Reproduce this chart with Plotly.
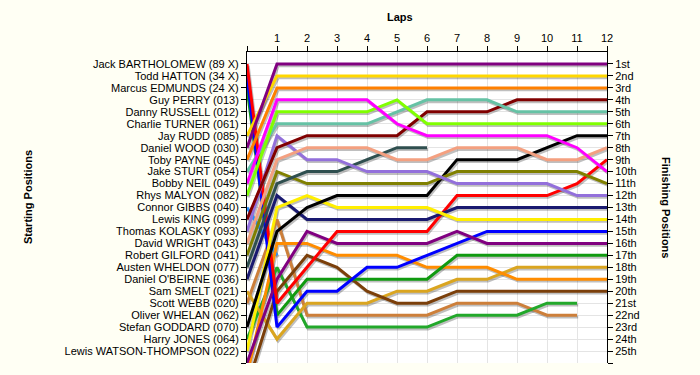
import plotly.graph_objects as go

# ---------------- data ----------------
start_names = [
    "Jack BARTHOLOMEW (89 X)", "Todd HATTON (34 X)", "Marcus EDMUNDS (24 X)",
    "Guy PERRY (013)", "Danny RUSSELL (012)", "Charlie TURNER (061)",
    "Jay RUDD (085)", "Daniel WOOD (030)", "Toby PAYNE (045)",
    "Jake STURT (054)", "Bobby NEIL (049)", "Rhys MALYON (082)",
    "Connor GIBBS (040)", "Lewis KING (099)", "Thomas KOLASKY (093)",
    "David WRIGHT (043)", "Robert GILFORD (041)", "Austen WHELDON (077)",
    "Daniel O'BEIRNE (036)", "Sam SMELT (021)", "Scott WEBB (020)",
    "Oliver WHELAN (062)", "Stefan GODDARD (070)", "Harry JONES (064)",
    "Lewis WATSON-THOMPSON (022)",
]
finish_labels = ["1st", "2nd", "3rd"] + [f"{i}th" for i in range(4, 21)] + ["21st", "22nd", "23rd", "24th", "25th"]
laps = list(range(0, 13))

# positions from lap 0 (grid) to the last lap completed
pos_purple    = [8, 1, 1, 1, 1, 1, 1, 1, 1, 1, 1, 1, 1]
pos_yellow    = [7, 2, 2, 2, 2, 2, 2, 2, 2, 2, 2, 2, 2]
pos_orange    = [9, 3, 3, 3, 3, 3, 3, 3, 3, 3, 3, 3, 3]
pos_magenta   = [11, 4, 4, 4, 4, 6, 7, 7, 7, 7, 7, 8, 10]
pos_lime      = [12, 5, 5, 5, 5, 4, 6, 6, 6, 6, 6, 6, 6]
pos_teal      = [10, 6, 6, 6, 6, 5, 4, 4, 4, 5, 5, 5, 5]
pos_maroon    = [14, 8, 7, 7, 7, 7, 5, 5, 5, 4, 4, 4, 4]
pos_salmon    = [16, 9, 8, 8, 8, 9, 9, 8, 8, 8, 9, 9, 8]
pos_lavender  = [15, 7, 9, 9, 10, 10, 10, 11, 11, 11, 11, 12, 12]
pos_slate     = [18, 11, 10, 10, 9, 8, 8]
pos_olive     = [17, 10, 11, 11, 11, 11, 11, 10, 10, 10, 10, 10, 11]
pos_black     = [23, 15, 13, 12, 12, 12, 12, 9, 9, 9, 8, 7, 7]
pos_yellow2   = [25, 13, 12, 13, 13, 13, 13, 14, 14, 14, 14, 14, 14]
pos_navy      = [19, 12, 14, 14, 14, 14, 14, 13, 13, 13, 13, 13, 13]
pos_red       = [1, 21, 18, 15, 15, 15, 15, 12, 12, 12, 12, 11, 9]
pos_purple2   = [26, 19, 15, 16, 16, 16, 16, 15, 16, 16, 16, 16, 16]
pos_blue      = [2, 23, 20, 20, 18, 18, 17, 16, 15, 15, 15, 15, 15]
pos_orange2   = [27, 16, 16, 17, 17, 17, 18, 18, 18, 19, 19, 19, 19]
pos_brown     = [28, 20, 17, 18, 20, 21, 21, 20, 20, 20, 20, 20, 20]
pos_green     = [3, 22, 19, 19, 19, 19, 19, 17, 17, 17, 17, 17, 17]
pos_gold      = [20, 24, 21, 21, 21, 20, 20, 19, 19, 18, 18, 18, 18]
pos_copper    = [21, 14, 22, 22, 22, 22, 22, 21, 21, 21, 22, 22]
pos_green2    = [24, 18, 23, 23, 23, 23, 23, 22, 22, 22, 21, 21]
pos_ltblue    = [13, 17]

series = [
    (pos_ltblue, "#1E90FF"),
    (pos_copper, "#CD7F3A"),
    (pos_green2, "#22A82A"),
    (pos_gold, "#DAA520"),
    (pos_brown, "#7B3F0A"),
    (pos_orange2, "#FF8C00"),
    (pos_green, "#109A10"),
    (pos_blue, "#0000FF"),
    (pos_purple2, "#800080"),
    (pos_red, "#FF0000"),
    (pos_navy, "#191970"),
    (pos_yellow2, "#FFEE00"),
    (pos_black, "#000000"),
    (pos_olive, "#808000"),
    (pos_slate, "#2F4F4F"),
    (pos_lavender, "#9370DB"),
    (pos_salmon, "#F4A080"),
    (pos_maroon, "#800000"),
    (pos_teal, "#66C2A5"),
    (pos_lime, "#80FF00"),
    (pos_magenta, "#FF00FF"),
    (pos_orange, "#FF8000"),
    (pos_yellow, "#FFD700"),
    (pos_purple, "#800080"),
]

# ---------------- figure ----------------
fig = go.Figure()

# soft drop shadows
for ys, col in series:
    xs = laps[:len(ys)]
    fig.add_trace(go.Scatter(
        x=[v + 0.04 for v in xs], y=[v + 0.15 for v in ys], mode="lines",
        line=dict(color="rgba(0,0,0,0.25)", width=3),
        hoverinfo="skip", showlegend=False))

for ys, col in series:
    xs = laps[:len(ys)]
    fig.add_trace(go.Scatter(
        x=xs, y=ys, mode="lines",
        line=dict(color=col, width=3),
        showlegend=False))

# invisible trace to anchor the right axis
fig.add_trace(go.Scatter(x=[0], y=[1], yaxis="y2", mode="markers",
                         marker=dict(opacity=0), hoverinfo="skip", showlegend=False))

L, R, T, B = 247, 607, 52, 363
W, H = 700, 375
BG = "#FFFFF4"

font = dict(family="Liberation Sans, Arial, sans-serif", size=11, color="#000000")

fig.update_layout(
    width=W, height=H,
    margin=dict(l=L, r=W - R, t=T, b=H - B, pad=0, autoexpand=False),
    paper_bgcolor=BG,
    plot_bgcolor="#FFFFFF",
    font=font,
    showlegend=False,
    xaxis=dict(
        range=[0, 12], side="top",
        tickvals=list(range(0, 13)),
        ticktext=[""] + [str(i) for i in range(1, 13)],
        ticks="outside", ticklen=5, tickcolor="#000000",
        showline=True, linecolor="#000000", linewidth=1,
        showgrid=True, gridcolor="#E4E4E4", gridwidth=1,
        zeroline=False, fixedrange=True, automargin=False,
        tickfont=dict(size=11),
    ),
    yaxis=dict(
        range=[26, 0],
        tickvals=list(range(1, 27)),
        ticktext=start_names + [""],
        ticks="outside", ticklen=5, tickcolor="#000000",
        showline=True, linecolor="#000000", linewidth=1,
        showgrid=True, gridcolor="#E4E4E4", gridwidth=1,
        zeroline=False, fixedrange=True, automargin=False,
        tickfont=dict(size=11),
    ),
    yaxis2=dict(
        range=[26, 0], overlaying="y", side="right",
        tickvals=list(range(1, 27)),
        ticktext=finish_labels + [""],
        ticks="outside", ticklen=5, tickcolor="#000000",
        showline=True, linecolor="#000000", linewidth=1,
        showgrid=False, zeroline=False, fixedrange=True, automargin=False,
        tickfont=dict(size=11),
    ),
)


def px_to_paper(px, py):
    return (px - L) / (R - L), (B - py) / (B - T)


def add_title(text, px, py, angle):
    ax, ay = px_to_paper(px, py)
    fig.add_annotation(text="<b>" + text + "</b>", x=ax, y=ay, xref="paper", yref="paper",
                       xanchor="center", yanchor="middle",
                       showarrow=False, textangle=angle, font=dict(size=11))


add_title("Laps", 400, 17, 0)
add_title("Starting Positions", 28, 197, -90)
add_title("Finishing Positions", 666, 207, 90)

post = (
    "document.body.style.margin='0';"
    "document.body.style.padding='0';"
    "document.body.style.overflow='hidden';"
    "document.body.style.background='" + BG + "';"
)
fig.write_html("out.html", config={"displayModeBar": False}, post_script=post)
